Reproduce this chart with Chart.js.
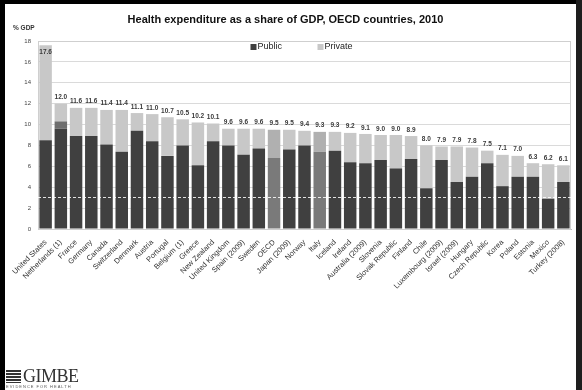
<!DOCTYPE html>
<html>
<head>
<meta charset="utf-8">
<script src="https://cdn.jsdelivr.net/npm/chart.js@4.4.1/dist/chart.umd.min.js"></script>
<style>
  html, body { margin: 0; padding: 0; background: #fff; }
  #wrap { position: relative; width: 582px; height: 390px; overflow: hidden; background: #fff; }
  #c { position: absolute; left: 0; top: 0; }
  .bl { position: absolute; left: 0; top: 0; width: 5px; height: 390px; background: #000; }
  .bt { position: absolute; left: 0; top: 0; width: 582px; height: 4px; background: #000; }
  .br { position: absolute; left: 576px; top: 0; width: 6px; height: 390px; background: #1e1e1e; }
  .ylab { position: absolute; left: 13px; top: 24px; font: bold 6.5px "Liberation Sans", Arial, sans-serif; color: #333; }
  .logo { position: absolute; left: 6px; top: 366px; width: 90px; height: 24px; }
  .logo .ic { position: absolute; left: 0; top: 4px; width: 15px; height: 13px;
    background: repeating-linear-gradient(#333 0 2px, #fff 2px 3px); }
  .logo .tx { position: absolute; left: 17px; top: 0; font: 18px "Liberation Serif", "DejaVu Serif", serif; color: #333; letter-spacing: -0.5px; line-height: 20px; }
  .logo .sub { position: absolute; left: 0; top: 18px; font: 4px "Liberation Sans", Arial, sans-serif; color: #555; letter-spacing: 1px; white-space: nowrap; }
</style>
</head>
<body>
<div id="wrap">
  <canvas id="c" width="582" height="390"></canvas>
  <div class="ylab">% GDP</div>
  <div class="logo"><div class="ic"></div><div class="tx">GIMBE</div><div class="sub">EVIDENCE FOR HEALTH</div></div>
  <div class="bl"></div><div class="bt"></div><div class="br"></div>
</div>
<script>
const categories = ['United States','Netherlands (1)','France','Germany','Canada','Switzerland','Denmark','Austria','Portugal','Belgium (1)','Greece','New Zealand','United Kingdom','Spain (2009)','Sweden','OECD','Japan (2009)','Norway','Italy','Iceland','Ireland','Australia (2009)','Slovenia','Slovak Republic','Finland','Chile','Luxembourg (2009)','Israel (2009)','Hungary','Czech Republic','Korea','Poland','Estonia','Mexico','Turkey (2008)'];
const publicShare = [8.5,9.6,8.9,8.9,8.1,7.4,9.4,8.4,7.0,8.0,6.1,8.4,8.0,7.1,7.7,6.8,7.6,8.0,7.4,7.5,6.4,6.3,6.6,5.8,6.7,3.9,6.6,4.5,5.0,6.3,4.1,5.0,5.0,2.9,4.5];
const otherShare = [0,0.7,0,0,0,0,0,0,0,0,0,0,0,0,0,0,0,0,0,0,0,0,0,0,0,0,0,0,0,0,0,0,0,0,0];
const privateShare = [9.1,1.7,2.7,2.7,3.3,4.0,1.7,2.6,3.7,2.5,4.1,1.7,1.6,2.5,1.9,2.7,1.9,1.4,1.9,1.8,2.8,2.8,2.4,3.2,2.2,4.1,1.3,3.4,2.8,1.2,3.0,2.0,1.3,3.3,1.6];
const totalLabels = ['17.6','12.0','11.6','11.6','11.4','11.4','11.1','11.0','10.7','10.5','10.2','10.1','9.6','9.6','9.6','9.5','9.5','9.4','9.3','9.3','9.2','9.1','9.0','9.0','8.9','8.0','7.9','7.9','7.8','7.5','7.1','7.0','6.3','6.2','6.1'];
const totalValues = [17.6,12.0,11.6,11.6,11.4,11.4,11.1,11.0,10.7,10.5,10.2,10.1,9.6,9.6,9.6,9.5,9.5,9.4,9.3,9.3,9.2,9.1,9.0,9.0,8.9,8.0,7.9,7.9,7.8,7.5,7.1,7.0,6.3,6.2,6.1];
const yTicks = [0,2,4,6,8,10,12,14,16,18];
const highlighted = ['OECD','Italy'];

const FONT = '"Liberation Sans", Arial, sans-serif';
const isHi = i => highlighted.includes(categories[i]);

const frame = {
  id: 'frame',
  beforeDatasetsDraw(chart) {
    const a = chart.chartArea, ctx = chart.ctx;
    ctx.save();
    ctx.strokeStyle = '#cfcfcf';
    ctx.lineWidth = 1;
    ctx.strokeRect(a.left + 0.5, a.top + 0.5, a.right - a.left - 1, a.bottom - a.top);
    ctx.restore();
  },
  afterDatasetsDraw(chart) {
    const ctx = chart.ctx, y = chart.scales.y, x = chart.scales.x, a = chart.chartArea;
    ctx.save();
    // faint scan line across the plot
    const sy = Math.round(y.getPixelForValue(3.05)) + 0.5;
    ctx.strokeStyle = 'rgba(255,255,255,0.85)';
    ctx.setLineDash([3, 2]);
    ctx.beginPath(); ctx.moveTo(a.left, sy); ctx.lineTo(a.right, sy); ctx.stroke();
    ctx.setLineDash([]);

    ctx.font = 'bold 6.5px ' + FONT;
    ctx.fillStyle = '#3a3a3a';
    ctx.textAlign = 'center';
    ctx.textBaseline = 'bottom';
    totalValues.forEach((v, i) => {
      const px = x.getPixelForValue(i);
      let py = y.getPixelForValue(v) - 3;
      if (py - 7 < a.top) py = y.getPixelForValue(v) + 10;
      ctx.fillText(totalLabels[i], px, py);
    });
    // legend inside the plot
    const items = [['Public', '#404040'], ['Private', '#c8c8c8']];
    ctx.font = '9px ' + FONT;
    ctx.textAlign = 'left';
    ctx.textBaseline = 'middle';
    const cx = (a.left + a.right) / 2;
    const ly = a.top + 6;
    const starts = [cx - 54, cx + 13];
    items.forEach((it, k) => {
      ctx.fillStyle = it[1];
      ctx.fillRect(starts[k], ly - 3, 6, 6);
      ctx.fillStyle = '#222';
      ctx.fillText(it[0], starts[k] + 7, ly);
    });
    ctx.restore();
  }
};

new Chart(document.getElementById('c'), {
  type: 'bar',
  data: {
    labels: categories,
    datasets: [
      { label: 'Public', data: publicShare, backgroundColor: publicShare.map((v, i) => isHi(i) ? '#7a7a7a' : '#404040') },
      { label: 'Other', data: otherShare, backgroundColor: '#6e6e6e' },
      { label: 'Private', data: privateShare, backgroundColor: privateShare.map((v, i) => isHi(i) ? '#b0b0b0' : '#c8c8c8') }
    ]
  },
  options: {
    responsive: false,
    animation: false,
    devicePixelRatio: 1,
    layout: { padding: { left: 0, right: 11, top: 0, bottom: 0 } },
    datasets: { bar: { categoryPercentage: 0.82, barPercentage: 1.0, borderWidth: 0 } },
    plugins: {
      legend: { display: false },
      tooltip: { enabled: false },
      title: {
        display: true,
        text: 'Health expenditure as a share of GDP, OECD countries, 2010',
        font: { family: FONT, size: 11, weight: 'bold' },
        color: '#111',
        padding: { top: 13, bottom: 14.8 }
      }
    },
    scales: {
      x: {
        stacked: true,
        grid: { display: false },
        border: { color: '#bdbdbd' },
        ticks: { autoSkip: false, maxRotation: 45, minRotation: 45, font: { family: FONT, size: 7.5 }, color: '#333', padding: 1 },
        afterFit(s) { s.height = 161; }
      },
      y: {
        stacked: true,
        min: 0, max: 18,
        afterBuildTicks(s) { s.ticks = yTicks.map(v => ({ value: v })); },
        grid: { color: '#dadada', drawTicks: false },
        border: { color: '#cfcfcf' },
        ticks: { font: { family: FONT, size: 6 }, color: '#444', padding: 7 },
        afterFit(s) { s.width = 38; }
      }
    }
  },
  plugins: [frame]
});
</script>
</body>
</html>
